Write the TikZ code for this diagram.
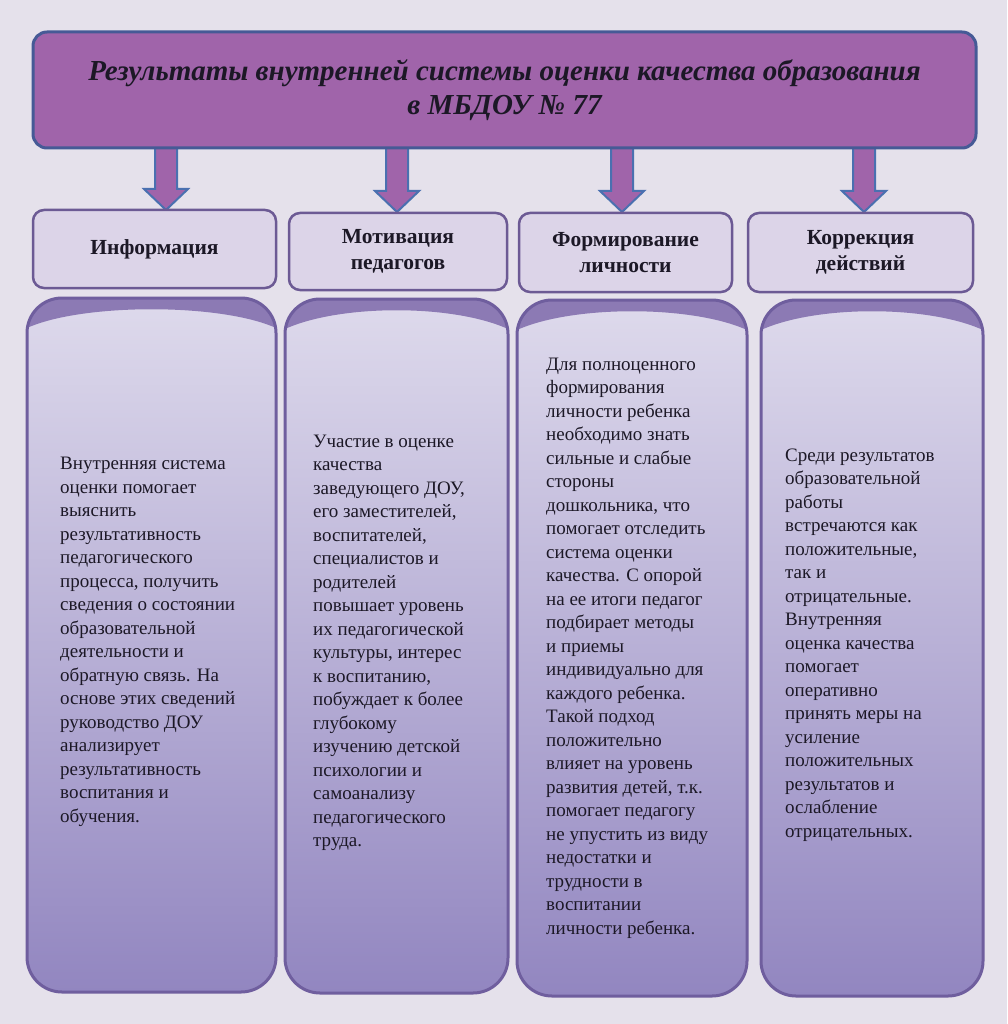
\documentclass[tikz,border=0pt]{standalone}
\usepackage{fontspec}
\setmainfont{Liberation Serif}
\usetikzlibrary{calc}
\definecolor{bg}{HTML}{E5E1EB}
\definecolor{titlefill}{HTML}{A064AA}
\definecolor{titleborder}{HTML}{465A96}
\definecolor{arrowborder}{HTML}{4A70B0}
\definecolor{headfill}{HTML}{DCD4E8}
\definecolor{headborder}{HTML}{6C5A94}
\definecolor{coltop}{HTML}{DEDAEC}
\definecolor{colbot}{HTML}{9286C0}
\definecolor{colborder}{HTML}{6F5E9E}
\definecolor{capcol}{HTML}{8C7AB4}
\definecolor{ink}{HTML}{1C1826}
\tikzset{
  titlebox/.style={draw=titleborder, line width=3pt, fill=titlefill, rounded corners=14pt, inner sep=0pt, outer sep=0pt, align=center, text=ink, font=\fontsize{29}{34}\selectfont\bfseries\itshape},
  headbox/.style={draw=headborder, line width=2.5pt, fill=headfill, rounded corners=11pt, inner sep=0pt, outer sep=0pt, align=center, text=ink, font=\fontsize{21.5}{26}\selectfont\bfseries},
  colbox/.style={top color=coltop, bottom color=colbot, inner sep=0pt, outer sep=0pt, rounded corners=35pt},
  colline/.style={draw=colborder, line width=3pt, rounded corners=35pt},
  bodytext/.style={anchor=west, inner sep=0pt, align=left, text=ink, font=\fontsize{19}{23.5}\selectfont},
  fatarr/.style={draw=arrowborder, line width=2pt, fill=titlefill, line join=miter},
}
\newcommand\fatarrow[2]{\draw[fatarr] ($(#1)+(-11,0)$) -- ($(#1)+(11,0)$) -- ($(#2)+(11,-21)$) -- ($(#2)+(22,-21)$) -- (#2) -- ($(#2)+(-22,-21)$) -- ($(#2)+(-11,-21)$) -- cycle;}
\newcommand\colcap[1]{%
  \begin{scope}
    \clip[rounded corners=35pt] (#1.north west) rectangle (#1.south east);
    \fill[capcol] ($(#1.north west)+(0,-5)$) -- ($(#1.north east)+(0,-5)$) -- ($(#1.north east)+(0,30)$)
      .. controls ($(#1.north east)+(-55,5)$) and ($(#1.north west)+(55,5)$) .. ($(#1.north west)+(0,30)$) -- cycle;
  \end{scope}
  \draw[colline] (#1.north west) rectangle (#1.south east);}
\begin{document}
\begin{tikzpicture}[x=1pt,y=-1pt]
\fill[bg] (0,0) rectangle (1007,1024);
\useasboundingbox (0,0) rectangle (1007,1024);

% arrows (drawn first, title covers their top)
\coordinate (a1t) at (166,145); \coordinate (a1b) at (166,210);
\coordinate (a2t) at (397,145); \coordinate (a2b) at (397,212);
\coordinate (a3t) at (622,145); \coordinate (a3b) at (622,212);
\coordinate (a4t) at (864,145); \coordinate (a4b) at (864,212);
\fatarrow{a1t}{a1b}
\fatarrow{a2t}{a2b}
\fatarrow{a3t}{a3b}
\fatarrow{a4t}{a4b}

\node[titlebox, minimum width=943pt, minimum height=116pt] (title) at (504.5,90)
  {Результаты внутренней системы оценки качества образования\\в МБДОУ № 77};

\node[headbox, minimum width=243pt, minimum height=78pt] (h1) at (154.5,249) {Информация};
\node[headbox, minimum width=218pt, minimum height=77pt] (h2) at (398,251.5) {Мотивация\\педагогов};
\node[headbox, minimum width=213pt, minimum height=79pt] (h3) at (625.5,252.5) {Формирование\\личности};
\node[headbox, minimum width=225pt, minimum height=79pt] (h4) at (860.5,252.5) {Коррекция\\действий};

\node[colbox, minimum width=249pt, minimum height=694pt] (c1) at (151.5,645) {};
\node[colbox, minimum width=223pt, minimum height=694pt] (c2) at (396.5,646) {};
\node[colbox, minimum width=230pt, minimum height=696pt] (c3) at (632,648) {};
\node[colbox, minimum width=222pt, minimum height=696pt] (c4) at (872,648) {};
\colcap{c1}\colcap{c2}\colcap{c3}\colcap{c4}

\node[bodytext] (t1) at (60,642) {Внутренняя система\\оценки помогает\\выяснить\\результативность\\педагогического\\процесса, получить\\сведения о состоянии\\образовательной\\деятельности и\\обратную связь. На\\основе этих сведений\\руководство ДОУ\\анализирует\\результативность\\воспитания и\\обучения.};
\node[bodytext] (t2) at (313,643) {Участие в оценке\\качества\\заведующего ДОУ,\\его заместителей,\\воспитателей,\\специалистов и\\родителей\\повышает уровень\\их педагогической\\культуры, интерес\\к воспитанию,\\побуждает к более\\глубокому\\изучению детской\\психологии и\\самоанализу\\педагогического\\труда.};
\node[bodytext] (t3) at (546,648) {Для полноценного\\формирования\\личности ребенка\\необходимо знать\\сильные и слабые\\стороны\\дошкольника, что\\помогает отследить\\система оценки\\качества. С опорой\\на ее итоги педагог\\подбирает методы\\и приемы\\индивидуально для\\каждого ребенка.\\Такой подход\\положительно\\влияет на уровень\\развития детей, т.к.\\помогает педагогу\\не упустить из виду\\недостатки и\\трудности в\\воспитании\\личности ребенка.};
\node[bodytext] (t4) at (785,645) {Среди результатов\\образовательной\\работы\\встречаются как\\положительные,\\так и\\отрицательные.\\Внутренняя\\оценка качества\\помогает\\оперативно\\принять меры на\\усиление\\положительных\\результатов и\\ослабление\\отрицательных.};
\end{tikzpicture}
\end{document}
